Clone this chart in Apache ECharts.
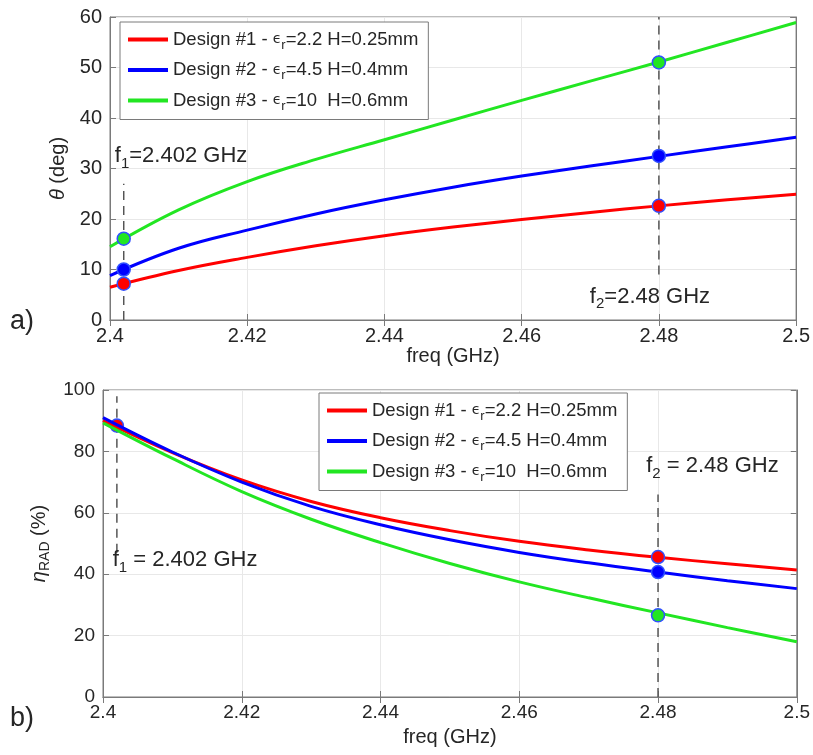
<!DOCTYPE html>
<html>
<head>
<meta charset="utf-8">
<script src="https://cdn.jsdelivr.net/npm/echarts@6/dist/echarts.min.js"></script>
<style>
html, body { margin: 0; padding: 0; background: #fff; }
#main { width: 813px; height: 755px; }
</style>
</head>
<body>
<div id="main"></div>
<script>
// frequency samples (GHz)
var freq = [2.4, 2.41, 2.42, 2.43, 2.44, 2.45, 2.46, 2.47, 2.48, 2.49, 2.5];

// a) theta (deg)
var thetaD1 = [6.5, 9.8, 12.4, 14.7, 16.7, 18.4, 19.9, 21.3, 22.6, 23.8, 24.9];
var thetaD2 = [8.8, 14.2, 17.8, 21.0, 23.8, 26.3, 28.5, 30.5, 32.4, 34.3, 36.2];
var thetaD3 = [14.5, 21.8, 27.4, 31.8, 35.7, 39.6, 43.5, 47.3, 51.1, 55.0, 58.9];

// b) radiation efficiency (%)
var etaD1 = [90.0, 79.6, 70.7, 63.7, 58.4, 54.2, 50.7, 47.9, 45.5, 43.4, 41.4];
var etaD2 = [91.0, 79.8, 70.0, 62.1, 56.1, 51.2, 47.1, 43.7, 40.7, 37.9, 35.3];
var etaD3 = [89.3, 77.7, 66.9, 57.9, 50.3, 43.5, 37.5, 32.3, 27.4, 22.6, 18.0];

// marked frequencies and the values marked there (design 1..3)
var f1 = 2.402, f2 = 2.48;
var thetaAtF1 = [7.2, 10.0, 16.1];
var thetaAtF2 = [22.6, 32.5, 51.0];
var etaAtF1 = [88.4];
var etaAtF2 = [45.6, 40.7, 26.6];

// extents of the dashed guides
var thetaF1Dash = [0, 27], thetaF2Dash = [9, 60];
var etaF1Dash = [47, 98], etaF2Dash = [0, 66];

var names = ['Design #1', 'Design #2', 'Design #3'];
var legendText = {
	'Design #1': 'Design #1 - {e|ϵ}{s|r}=2.2 H=0.25mm',
	'Design #2': 'Design #2 - {e|ϵ}{s|r}=4.5 H=0.4mm',
	'Design #3': 'Design #3 - {e|ϵ}{s|r}=10  H=0.6mm'
};

var FONT = '"Liberation Sans", Arial, Helvetica, sans-serif';
var colors = ['#ff0000', '#0000ff', '#22e622'];
var TXT = '#262626';
var EDGE = '#7a7a7a';

var chart = echarts.init(document.getElementById('main'));

function fmtX(v) { return String(+v.toFixed(3)); }

function xAxisDef(gi, pos, fs) {
	var main = pos === 'bottom';
	return {
		type: 'value', gridIndex: gi, position: pos,
		min: 2.4, max: 2.5, interval: 0.02,
		name: main ? 'freq (GHz)' : '', nameLocation: 'middle', nameGap: gi === 0 ? 24 : 30,
		nameTextStyle: { fontFamily: FONT, fontSize: 20, color: TXT },
		axisLine: { show: true, lineStyle: { color: EDGE, width: 1 } },
		axisTick: { show: true, inside: true, length: 6, lineStyle: { color: EDGE } },
		axisLabel: { show: main, margin: 6, fontFamily: FONT, fontSize: fs, color: TXT, formatter: fmtX, showMinLabel: true, showMaxLabel: true },
		splitLine: { show: main, lineStyle: { color: '#e8e8e8', width: 1 } }
	};
}

function yAxisDef(gi, pos, max, step, nm, gap) {
	var main = pos === 'left';
	return {
		type: 'value', gridIndex: gi, position: pos,
		min: 0, max: max, interval: step,
		name: main ? nm : '', nameLocation: 'middle', nameRotate: 90, nameGap: gap,
		nameTextStyle: {
			fontFamily: FONT, fontSize: 20, color: TXT,
			rich: {
				i: { fontFamily: FONT, fontSize: 20, fontStyle: 'italic', color: TXT },
				s: { fontFamily: FONT, fontSize: 14, color: TXT, padding: [12, 0, 0, 0] }
			}
		},
		axisLine: { show: true, lineStyle: { color: EDGE, width: 1 } },
		axisTick: { show: true, inside: true, length: 6, lineStyle: { color: EDGE } },
		axisLabel: { show: main, margin: 8, fontFamily: FONT, fontSize: gi === 0 ? 20 : 19, color: TXT },
		splitLine: { show: main, lineStyle: { color: '#e8e8e8', width: 1 } }
	};
}

function pairs(y) { return freq.map(function(f, i) { return [f, y[i]]; }); }

var series = [];
function addGuide(gi, f, ext) {
	series.push({
		type: 'line', xAxisIndex: gi * 2, yAxisIndex: gi * 2, silent: true, z: 1,
		symbol: 'none', data: [[f, ext[0]], [f, ext[1]]],
		lineStyle: { color: '#555', width: 1.5, type: [9, 6] }
	});
}
addGuide(0, f1, thetaF1Dash);
addGuide(0, f2, thetaF2Dash);
addGuide(1, f1, etaF1Dash);
addGuide(1, f2, etaF2Dash);

function addCurves(gi, sets, marks) {
	sets.forEach(function(y, k) {
		series.push({
			name: names[k], type: 'line', xAxisIndex: gi * 2, yAxisIndex: gi * 2,
			data: pairs(y), smooth: 0.4, symbol: 'none', z: 3,
			color: colors[k], lineStyle: { color: colors[k], width: 3 }
		});
	});
	marks.forEach(function(m) {
		series.push({
			type: 'scatter', xAxisIndex: gi * 2, yAxisIndex: gi * 2, z: m.z || 4,
			symbolSize: 13, data: m.pts,
			itemStyle: { color: colors[m.k], borderColor: '#3050ff', borderWidth: 1.5, opacity: 1 }
		});
	});
}

addCurves(0, [thetaD1, thetaD2, thetaD3], [
	{ k: 1, pts: [[f1, thetaAtF1[1]], [f2, thetaAtF2[1]]] },
	{ k: 0, pts: [[f1, thetaAtF1[0]], [f2, thetaAtF2[0]]] },
	{ k: 2, pts: [[f1, thetaAtF1[2]], [f2, thetaAtF2[2]]] }
]);
addCurves(1, [etaD1, etaD2, etaD3], [
	{ k: 0, pts: [[f1, etaAtF1[0]]], z: 2 },
	{ k: 0, pts: [[f2, etaAtF2[0]]] },
	{ k: 1, pts: [[f2, etaAtF2[1]]] },
	{ k: 2, pts: [[f2, etaAtF2[2]]] }
]);

function legendDef(left, top) {
	return {
		left: left, top: top, orient: 'vertical', data: names,
		icon: 'rect', itemWidth: 40, itemHeight: 4, itemGap: 9,
		padding: [8, 10, 7, 8],
		backgroundColor: '#fff', borderColor: EDGE, borderWidth: 1,
		formatter: function(n) { return legendText[n]; },
		textStyle: {
			fontFamily: FONT, fontSize: 18.5, color: TXT,
			rich: {
				e: { fontFamily: '"DejaVu Sans", sans-serif', fontSize: 14, color: TXT },
				s: { fontFamily: FONT, fontSize: 13, color: TXT, padding: [11, 0, 0, 0] }
			}
		}
	};
}

chart.setOption({
	animation: false,
	backgroundColor: '#fff',
	grid: [
		{ left: 110, right: 16, top: 17, height: 303, show: true, borderColor: EDGE, borderWidth: 1 },
		{ left: 103, right: 15, top: 390, height: 307, show: true, borderColor: EDGE, borderWidth: 1 }
	],
	legend: [legendDef(120, 22), legendDef(319, 393)],
	xAxis: [xAxisDef(0, 'bottom', 20), xAxisDef(0, 'top', 20), xAxisDef(1, 'bottom', 19), xAxisDef(1, 'top', 19)],
	yAxis: [
		yAxisDef(0, 'left', 60, 10, '{i|θ} (deg)', 38),
		yAxisDef(0, 'right', 60, 10, '', 0),
		yAxisDef(1, 'left', 100, 20, '{i|η}{s|RAD} (%)', 46),
		yAxisDef(1, 'right', 100, 20, '', 0)
	],
	series: series
});

// annotations placed at data coordinates
var richA = {
	n: { fontFamily: FONT, fontSize: 22, fill: TXT },
	s: { fontFamily: FONT, fontSize: 15, fill: TXT, padding: [15, 0, 0, 0] }
};
function note(gi, x, y, txt, align) {
	var p = chart.convertToPixel({ xAxisIndex: gi * 2, yAxisIndex: gi * 2 }, [x, y]);
	return {
		type: 'text', x: p[0], y: p[1], z: 10,
		style: { text: txt, rich: richA, align: align || 'left', verticalAlign: 'middle', fill: TXT }
	};
}
chart.setOption({
	graphic: [
		note(0, f1 - 0.0013, 32.5, '{n|f}{s|1}{n|=2.402 GHz}'),
		note(0, f2 - 0.0013, 4.6, '{n|f}{s|2}{n|=2.48 GHz}', 'center'),
		note(1, f1 - 0.0006, 44.6, '{n|f}{s|1}{n| = 2.402 GHz}'),
		note(1, f2 - 0.0017, 75.2, '{n|f}{s|2}{n| = 2.48 GHz}'),
		{ type: 'text', left: 10, top: 308, style: { text: 'a)', font: '27px ' + FONT, fill: TXT } },
		{ type: 'text', left: 10, top: 705, style: { text: 'b)', font: '27px ' + FONT, fill: TXT } }
	]
});
</script>
</body>
</html>
